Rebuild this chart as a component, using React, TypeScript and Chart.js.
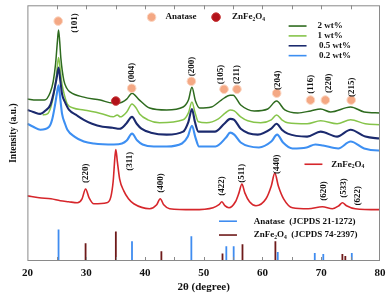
import React, { useEffect, useRef } from 'react';
import { Chart, registerables } from 'chart.js';

Chart.register(...registerables);

type P = [number, number];

const xTickValues = [20, 30, 40, 50, 60, 70, 80];

const wt2: P[] = [
  [20, 164], [21.5, 163], [22.9, 163], [23.9, 171], [24.4, 182], [24.8, 200], [25.1, 222], [25.3, 234],
  [25.5, 222], [25.7, 205], [26.2, 183], [26.7, 175], [27.3, 171], [29.6, 166], [32.4, 163], [34.5, 160],
  [35.2, 162], [35.6, 160], [36.9, 164], [37.8, 170], [38.9, 164], [40.8, 155], [43.7, 153], [46.5, 156],
  [47.4, 163], [48.0, 176], [48.6, 162], [49.3, 155], [51.3, 156], [53.0, 163], [54.5, 168], [55.0, 168],
  [56.3, 158], [58.6, 152], [60.9, 154], [62.4, 162], [63.8, 153], [66.0, 150], [68.2, 152], [69.9, 154],
  [71.6, 151], [75.0, 156], [77.3, 151], [80, 150],
];

const wt1: P[] = [
  [22.6, 148], [23.4, 149], [24.0, 156], [24.5, 169], [24.9, 186], [25.3, 206], [25.6, 193],
  [25.9, 179], [26.3, 168], [26.8, 159], [27.8, 155], [29.6, 153], [32.8, 149], [34.6, 146], [35.3, 148],
  [35.8, 146], [36.9, 151], [37.8, 159], [38.5, 155], [39.1, 149], [40.5, 143], [42.5, 140], [46.5, 143],
  [47.4, 150], [48.0, 161], [48.5, 151], [49.1, 141], [50.5, 140], [52.5, 144], [53.7, 150], [54.5, 153],
  [55.2, 152], [56.3, 146], [57.5, 142], [59.7, 140], [61.5, 143], [62.4, 148], [63.3, 143], [64.3, 140],
  [67.6, 139], [69.9, 142], [72.7, 139], [75.0, 143], [77.5, 139], [80, 138],
];

const wt05: P[] = [
  [20, 153], [21, 151], [22.2, 149], [23.2, 153], [23.9, 158], [24.5, 171], [25.0, 186], [25.3, 196],
  [25.6, 183], [25.9, 169], [26.4, 161], [27.1, 153], [28.3, 148], [29.6, 143], [31, 139], [32.8, 136],
  [34.5, 135], [35.7, 134], [36.8, 139], [37.8, 146], [38.6, 139], [39.4, 134], [41, 130], [43.7, 128],
  [46.5, 131], [47.4, 141], [48.0, 154], [48.5, 141], [49.1, 131], [51.9, 131], [53.5, 139], [54.5, 144],
  [55.2, 143], [56.3, 134], [59.2, 128], [61.5, 134], [62.4, 139], [63.3, 133], [64.3, 129], [67.6, 126],
  [69.9, 131], [72.7, 126], [75.0, 133], [77.5, 126], [80, 124],
];

const wt02: P[] = [
  [20, 139], [21, 136], [22.2, 133], [23.7, 136], [24.2, 143], [24.7, 158], [25.0, 169], [25.3, 178],
  [25.6, 164], [25.9, 149], [26.4, 139], [26.8, 133], [28, 126], [29.6, 121], [31.3, 119], [34.7, 118],
  [36.1, 119], [36.9, 122], [37.8, 129], [38.7, 122], [39.6, 118], [41.5, 116], [43.7, 116], [46.3, 119],
  [47.3, 126], [48.0, 137], [48.6, 125], [49.2, 116], [52, 116], [53.8, 125], [54.5, 130], [55.2, 128],
  [56.3, 120], [59.4, 115], [61.5, 121], [62.5, 128], [63.5, 120], [65.1, 114], [67.5, 115], [69.0, 118],
  [70.3, 117], [72.9, 114], [75.0, 121], [77.3, 114], [79.7, 112], [80, 112],
];

const znfe: P[] = [
  [20, 66], [22, 64], [24, 63], [25.6, 61], [27, 60], [28.5, 59], [29.3, 63], [29.9, 73], [30.5, 64],
  [31.3, 58], [33.5, 59], [34.2, 65], [34.6, 81], [34.9, 106], [35.05, 113], [35.3, 101], [35.7, 83],
  [36.4, 71], [37.2, 63], [38.1, 58], [40.8, 53], [42.0, 57], [42.6, 63], [43.2, 57], [44.2, 53],
  [48.2, 52], [51.6, 54], [52.6, 57], [53.1, 60], [53.6, 56], [54.3, 54], [55.4, 60], [56.0, 69],
  [56.5, 78], [57.0, 69], [57.8, 60], [58.9, 56], [60.6, 63], [61.5, 76], [62.1, 89], [62.7, 76],
  [63.6, 63], [65.1, 54], [67.8, 53], [70.2, 55], [71.9, 53], [73.0, 56], [73.6, 59], [74.3, 56],
  [75.8, 53], [79.7, 52], [80, 52],
];

const anatasePos = [25.3, 37.8, 47.9, 53.85, 55.1, 62.6, 68.9, 70.35, 75.2];
const anataseHeight = [32, 20, 25, 15, 15, 9, 8, 7, 8];
const znfeRefPos = [29.9, 35.05, 42.8, 53.2, 56.6, 62.2, 73.6, 74.1];
const znfeRefHeight = [18, 30, 10, 7.5, 17, 20, 7, 5];

const anataseMarkers: P[] = [
  [25.24, 243], [37.75, 175], [47.9, 182], [53.46, 174], [55.66, 174], [62.42, 170], [68.17, 163], [70.7, 163], [75.1, 163], [41.13, 247],
];
const znfeMarkers: P[] = [[35.04, 162], [52.1, 247]];

const anataseLabels = ['(101)', '(004)', '(200)', '(105)', '(211)', '(204)', '(116)', '(220)', '(215)'];
const anataseLabelPos: P[] = [
  [28.11, 241], [37.75, 191], [47.89, 197], [52.96, 189], [55.66, 189], [62.59, 183], [68.17, 179], [71.21, 180], [75.1, 176],
];
const znfeLabels = ['(220)', '(311)', '(400)', '(422)', '(511)', '(440)', '(620)', '(533)', '(622)'];
const znfeLabelPos: P[] = [
  [29.97, 89], [37.41, 101], [42.65, 79], [53.12, 76], [56.5, 89], [62.42, 98], [70.36, 71], [73.74, 74], [76.28, 66],
];

const seriesNames = ['2 wt%', '1 wt%', '0.5 wt%', '0.2 wt%'];
const seriesColors = ['#2e6b1f', '#86c44a', '#1b2a6e', '#3d8ff2'];
const znfeColor = '#d6262b';
const anataseStickColor = '#3f8cf0';
const znfeStickColor = '#6e1a1a';

const FONT = '"Liberation Serif", "Times New Roman", serif';

function sticks(pos: number[], h: number[]) {
  const out: { x: number; y: number | null }[] = [];
  pos.forEach((p, i) => {
    out.push({ x: p, y: 0 }, { x: p, y: h[i] }, { x: p, y: null });
  });
  return out;
}

const toXY = (a: P[]) => a.map(([x, y]) => ({ x, y }));

// "_" before a character marks it as subscript
function drawRich(ctx: CanvasRenderingContext2D, text: string, x: number, y: number, size: number) {
  const parts: [string, boolean][] = [];
  let buf = '';
  for (let i = 0; i < text.length; i++) {
    if (text[i] === '_' && i + 1 < text.length) {
      if (buf) parts.push([buf, false]);
      buf = '';
      parts.push([text[i + 1], true]);
      i++;
    } else buf += text[i];
  }
  if (buf) parts.push([buf, false]);
  let cx = x;
  for (const [t, sub] of parts) {
    const s = sub ? size * 0.62 : size;
    ctx.font = `bold ${s}px ${FONT}`;
    ctx.fillText(t, cx, sub ? y + size * 0.28 : y);
    cx += ctx.measureText(t).width;
  }
}

const annotations = {
  id: 'annotations',
  afterDatasetsDraw(chart: any) {
    const { ctx, chartArea: a, scales } = chart;
    const xs = scales.x;
    const ys = scales.y;
    const X = (v: number) => xs.getPixelForValue(v);
    const Y = (v: number) => ys.getPixelForValue(v);
    ctx.save();
    ctx.strokeStyle = '#8a8a8a';
    ctx.lineWidth = 1;
    ctx.strokeRect(a.left + 0.5, a.top + 0.5, a.right - a.left - 1, a.bottom - a.top - 1);
    for (let v = 25; v < 80; v += 5) {
      const px = Math.round(X(v)) + 0.5;
      ctx.beginPath();
      ctx.moveTo(px, a.bottom);
      ctx.lineTo(px, a.bottom - 4);
      ctx.moveTo(px, a.top);
      ctx.lineTo(px, a.top + 4);
      ctx.stroke();
    }
    ctx.fillStyle = '#111';
    ctx.textBaseline = 'middle';
    ctx.textAlign = 'center';
    ctx.font = `bold 9px ${FONT}`;
    const rot = (t: string, p: P) => {
      ctx.save();
      ctx.translate(X(p[0]), Y(p[1]));
      ctx.rotate(-Math.PI / 2);
      ctx.fillText(t, 0, 0);
      ctx.restore();
    };
    anataseLabels.forEach((t, i) => rot(t, anataseLabelPos[i]));
    znfeLabels.forEach((t, i) => rot(t, znfeLabelPos[i]));

    ctx.textAlign = 'left';
    drawRich(ctx, 'Anatase', X(43.5), Y(247), 9);
    drawRich(ctx, 'ZnFe_2O_4', X(54.8), Y(247), 9);

    const legY = [238, 228, 218, 208];
    const legTextX = [69.35, 69.35, 69.6, 69.6];
    seriesNames.forEach((n, i) => {
      ctx.strokeStyle = seriesColors[i];
      ctx.lineWidth = 1.6;
      ctx.beginPath();
      ctx.moveTo(X(64.45), Y(legY[i]));
      ctx.lineTo(X(67.5), Y(legY[i]));
      ctx.stroke();
      ctx.font = `bold 9px ${FONT}`;
      ctx.fillText(n, X(legTextX[i]), Y(legY[i]));
    });

    ctx.strokeStyle = znfeColor;
    ctx.lineWidth = 1.6;
    ctx.beginPath();
    ctx.moveTo(X(67.15), Y(98));
    ctx.lineTo(X(70.2), Y(98));
    ctx.stroke();
    drawRich(ctx, 'ZnFe_2O_4', X(71.7), Y(98), 9);

    ctx.strokeStyle = anataseStickColor;
    ctx.beginPath();
    ctx.moveTo(X(52.6), Y(40.3));
    ctx.lineTo(X(55.66), Y(40.3));
    ctx.stroke();
    ctx.strokeStyle = znfeStickColor;
    ctx.beginPath();
    ctx.moveTo(X(52.6), Y(26.3));
    ctx.lineTo(X(55.66), Y(26.3));
    ctx.stroke();
    drawRich(ctx, 'Anatase  (JCPDS 21-1272)', X(58.5), Y(40.3), 9);
    drawRich(ctx, 'ZnFe_2O_4  (JCPDS 74-2397)', X(58.5), Y(26.3), 9);
    ctx.restore();
  },
};

export default function App() {
  const ref = useRef<HTMLCanvasElement>(null);
  useEffect(() => {
    document.body.style.margin = '0';
    const curveOpts = (label: string, data: P[], color: string, w: number) => ({
      type: 'line' as const,
      label,
      data: toXY(data),
      borderColor: color,
      borderWidth: w,
      pointRadius: 0,
      cubicInterpolationMode: 'monotone' as const,
      fill: false,
    });
    const chart = new Chart(ref.current!, {
      type: 'line',
      data: {
        datasets: [
          {
            type: 'scatter' as any,
            label: 'Anatase markers',
            data: toXY(anataseMarkers),
            pointRadius: 4.3,
            pointBackgroundColor: '#f4a884',
            pointBorderColor: '#fbd6c2',
            pointBorderWidth: 1,
            showLine: false,
          } as any,
          {
            type: 'scatter' as any,
            label: 'ZnFe2O4 markers',
            data: toXY(znfeMarkers),
            pointRadius: 4.3,
            pointBackgroundColor: '#b3121a',
            pointBorderColor: '#c83a3a',
            pointBorderWidth: 1,
            showLine: false,
          } as any,
          curveOpts('2 wt%', wt2, seriesColors[0], 1.5),
          curveOpts('0.5 wt%', wt05, seriesColors[2], 2.1),
          curveOpts('1 wt%', wt1, seriesColors[1], 1.5),
          curveOpts('0.2 wt%', wt02, seriesColors[3], 2.1),
          curveOpts('ZnFe2O4', znfe, znfeColor, 1.6),
          {
            label: 'Anatase (JCPDS 21-1272)',
            data: sticks(anatasePos, anataseHeight) as any,
            borderColor: anataseStickColor,
            borderWidth: 1.8,
            pointRadius: 0,
            spanGaps: false,
          },
          {
            label: 'ZnFe2O4 (JCPDS 74-2397)',
            data: sticks(znfeRefPos, znfeRefHeight) as any,
            borderColor: znfeStickColor,
            borderWidth: 1.8,
            pointRadius: 0,
            spanGaps: false,
          },
        ],
      },
      options: {
        animation: false,
        responsive: false,
        maintainAspectRatio: false,
        layout: { padding: { left: 4, right: 9, top: 2, bottom: 4.5 } },
        plugins: { legend: { display: false }, tooltip: { enabled: false } },
        scales: {
          x: {
            type: 'linear',
            min: 20,
            max: 80,
            afterBuildTicks: (s: any) => {
              s.ticks = xTickValues.map((v) => ({ value: v }));
            },
            ticks: {
              font: { family: FONT, weight: 'bold', size: 11, lineHeight: 1 },
              color: '#111',
              padding: 6.5,
              maxRotation: 0,
            },
            grid: { display: false, drawTicks: false },
            border: { display: false },
            title: {
              display: true,
              text: '2θ (degree)',
              font: { family: FONT, weight: 'bold', size: 11, lineHeight: 1 },
              color: '#111',
              padding: { top: -3.5, bottom: 0 },
            },
          },
          y: {
            type: 'linear',
            min: 0,
            max: 259,
            ticks: { display: false },
            grid: { display: false, drawTicks: false },
            border: { display: false },
            title: {
              display: true,
              text: 'Intensity (a.u.)',
              font: { family: FONT, weight: 'bold', size: 9.5 },
              color: '#111',
              padding: { top: 4, bottom: 8 },
            },
          },
        },
      },
      plugins: [annotations],
    });
    return () => chart.destroy();
  }, []);
  return <canvas ref={ref} width={392} height={297} style={{ display: 'block' }} />;
}
